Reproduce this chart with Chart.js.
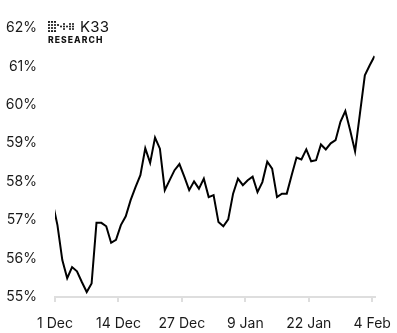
<!DOCTYPE html>
<html>
<head>
<meta charset="utf-8">
<script src="https://cdn.jsdelivr.net/npm/chart.js@4/dist/chart.umd.min.js"></script>
<style>
  html, body { margin: 0; padding: 0; background: #ffffff; }
  #wrap { position: relative; width: 397px; height: 333px; }
  #logo { position: absolute; left: 48px; top: 19px; font-family: "Inter", "Lato", sans-serif; color: #111; }
  #logo .row1 { display: flex; align-items: center; height: 15px; }
  #logo .k33 { font-size: 15px; font-weight: 400; margin-left: 4px; letter-spacing: 0.2px; line-height: 15px; }
  #logo .res { font-size: 8.6px; font-weight: 800; letter-spacing: 1.05px; line-height: 9px; margin-top: 2px; }
</style>
</head>
<body>
<div id="wrap">
  <canvas id="c" width="397" height="333"></canvas>
  <div id="logo">
    <div class="row1">
      <svg width="28" height="11" viewBox="0 0 28 11">
        <g fill="#111">
          <circle cx="1" cy="1" r="1.1"/><circle cx="4" cy="1" r="1.1"/><circle cx="7" cy="1" r="1.1"/>
          <circle cx="1" cy="4" r="1.1"/><circle cx="4" cy="4" r="1.1"/><circle cx="7" cy="4" r="1.1"/><circle cx="10" cy="4" r="1.1"/>
          <circle cx="1" cy="7" r="1.1"/><circle cx="4" cy="7" r="1.1"/><circle cx="7" cy="7" r="1.1"/>
          <circle cx="1" cy="10" r="1.1"/><circle cx="4" cy="10" r="1.1"/><circle cx="7" cy="10" r="1.1"/>
          <circle cx="13" cy="5.5" r="1"/><circle cx="16" cy="3" r="1"/><circle cx="16" cy="5.5" r="1"/><circle cx="16" cy="8" r="1"/>
          <circle cx="19" cy="5.5" r="1"/><circle cx="22" cy="3" r="1"/><circle cx="22" cy="5.5" r="1"/><circle cx="22" cy="8" r="1"/>
          <circle cx="25" cy="3" r="1"/><circle cx="25" cy="5.5" r="1"/><circle cx="25" cy="8" r="1"/>
        </g>
      </svg>
      <span class="k33">K33</span>
    </div>
    <div class="res">RESEARCH</div>
  </div>
</div>
<script>
const shareValues = [
  57.47, 56.87, 55.96, 55.49, 55.78, 55.67, 55.39, 55.13, 55.35, 56.93,
  56.93, 56.84, 56.41, 56.49, 56.87, 57.10, 57.52, 57.86, 58.17, 58.87,
  58.49, 59.15, 58.86, 57.78, 58.04, 58.30, 58.46, 58.13, 57.78, 58.01,
  57.82, 58.08, 57.60, 57.65, 56.95, 56.84, 57.02, 57.69, 58.08, 57.91,
  58.04, 58.13, 57.73, 57.99, 58.52, 58.34, 57.60, 57.69, 57.69, 58.17,
  58.63, 58.58, 58.84, 58.53, 58.56, 58.97, 58.84, 59.00, 59.08, 59.56,
  59.84, 59.33, 58.79, 59.78, 60.77, 61.03, 61.27
];
// Days since 1 Dec (daily observations, plotted at mid-day)
const dayOffsets = shareValues.map((_, i) => i - 0.5);
const tickLabels = ['1 Dec', '14 Dec', '27 Dec', '9 Jan', '22 Jan', '4 Feb'];
const tickDays = [0, 13, 26, 39, 52, 65];
const yTicks = [55, 56, 57, 58, 59, 60, 61, 62];

const FONT = '"Inter", "Lato", sans-serif';
const points = dayOffsets.map((d, i) => ({ x: d, y: shareValues[i] }));

new Chart(document.getElementById('c'), {
  type: 'line',
  data: {
    datasets: [{
      data: points,
      borderColor: '#000000',
      borderWidth: 2,
      pointRadius: 0,
      tension: 0,
      fill: false
    }]
  },
  options: {
    responsive: false,
    animation: false,
    layout: { padding: { left: 0, right: 22.4, top: 28, bottom: 0 } },
    plugins: { legend: { display: false }, tooltip: { enabled: false } },
    scales: {
      x: {
        type: 'linear',
        min: 0,
        max: 65.5,
        afterBuildTicks: s => { s.ticks = tickDays.map(v => ({ value: v })); },
        afterFit: s => { s.height = 36; s.paddingLeft = 0; s.paddingRight = 0; },
        ticks: {
          autoSkip: false,
          maxRotation: 0,
          padding: 13,
          color: '#1a1a1a',
          font: { family: FONT, size: 14 },
          callback: v => tickLabels[tickDays.indexOf(v)]
        },
        grid: { drawOnChartArea: false, drawTicks: true, tickLength: 5, color: '#dedede', lineWidth: 2 },
        border: { display: true, color: '#dedede', width: 2 }
      },
      y: {
        min: 55,
        max: 62,
        afterBuildTicks: s => { s.ticks = yTicks.map(v => ({ value: v })); },
        afterFit: s => { s.width = 55; s.paddingTop = 0; s.paddingBottom = 0; },
        ticks: {
          padding: 18,
          color: '#1a1a1a',
          font: { family: FONT, size: 14 },
          callback: v => v + '%'
        },
        grid: { display: false, drawTicks: false },
        border: { display: false }
      }
    }
  }
});
</script>
</body>
</html>
